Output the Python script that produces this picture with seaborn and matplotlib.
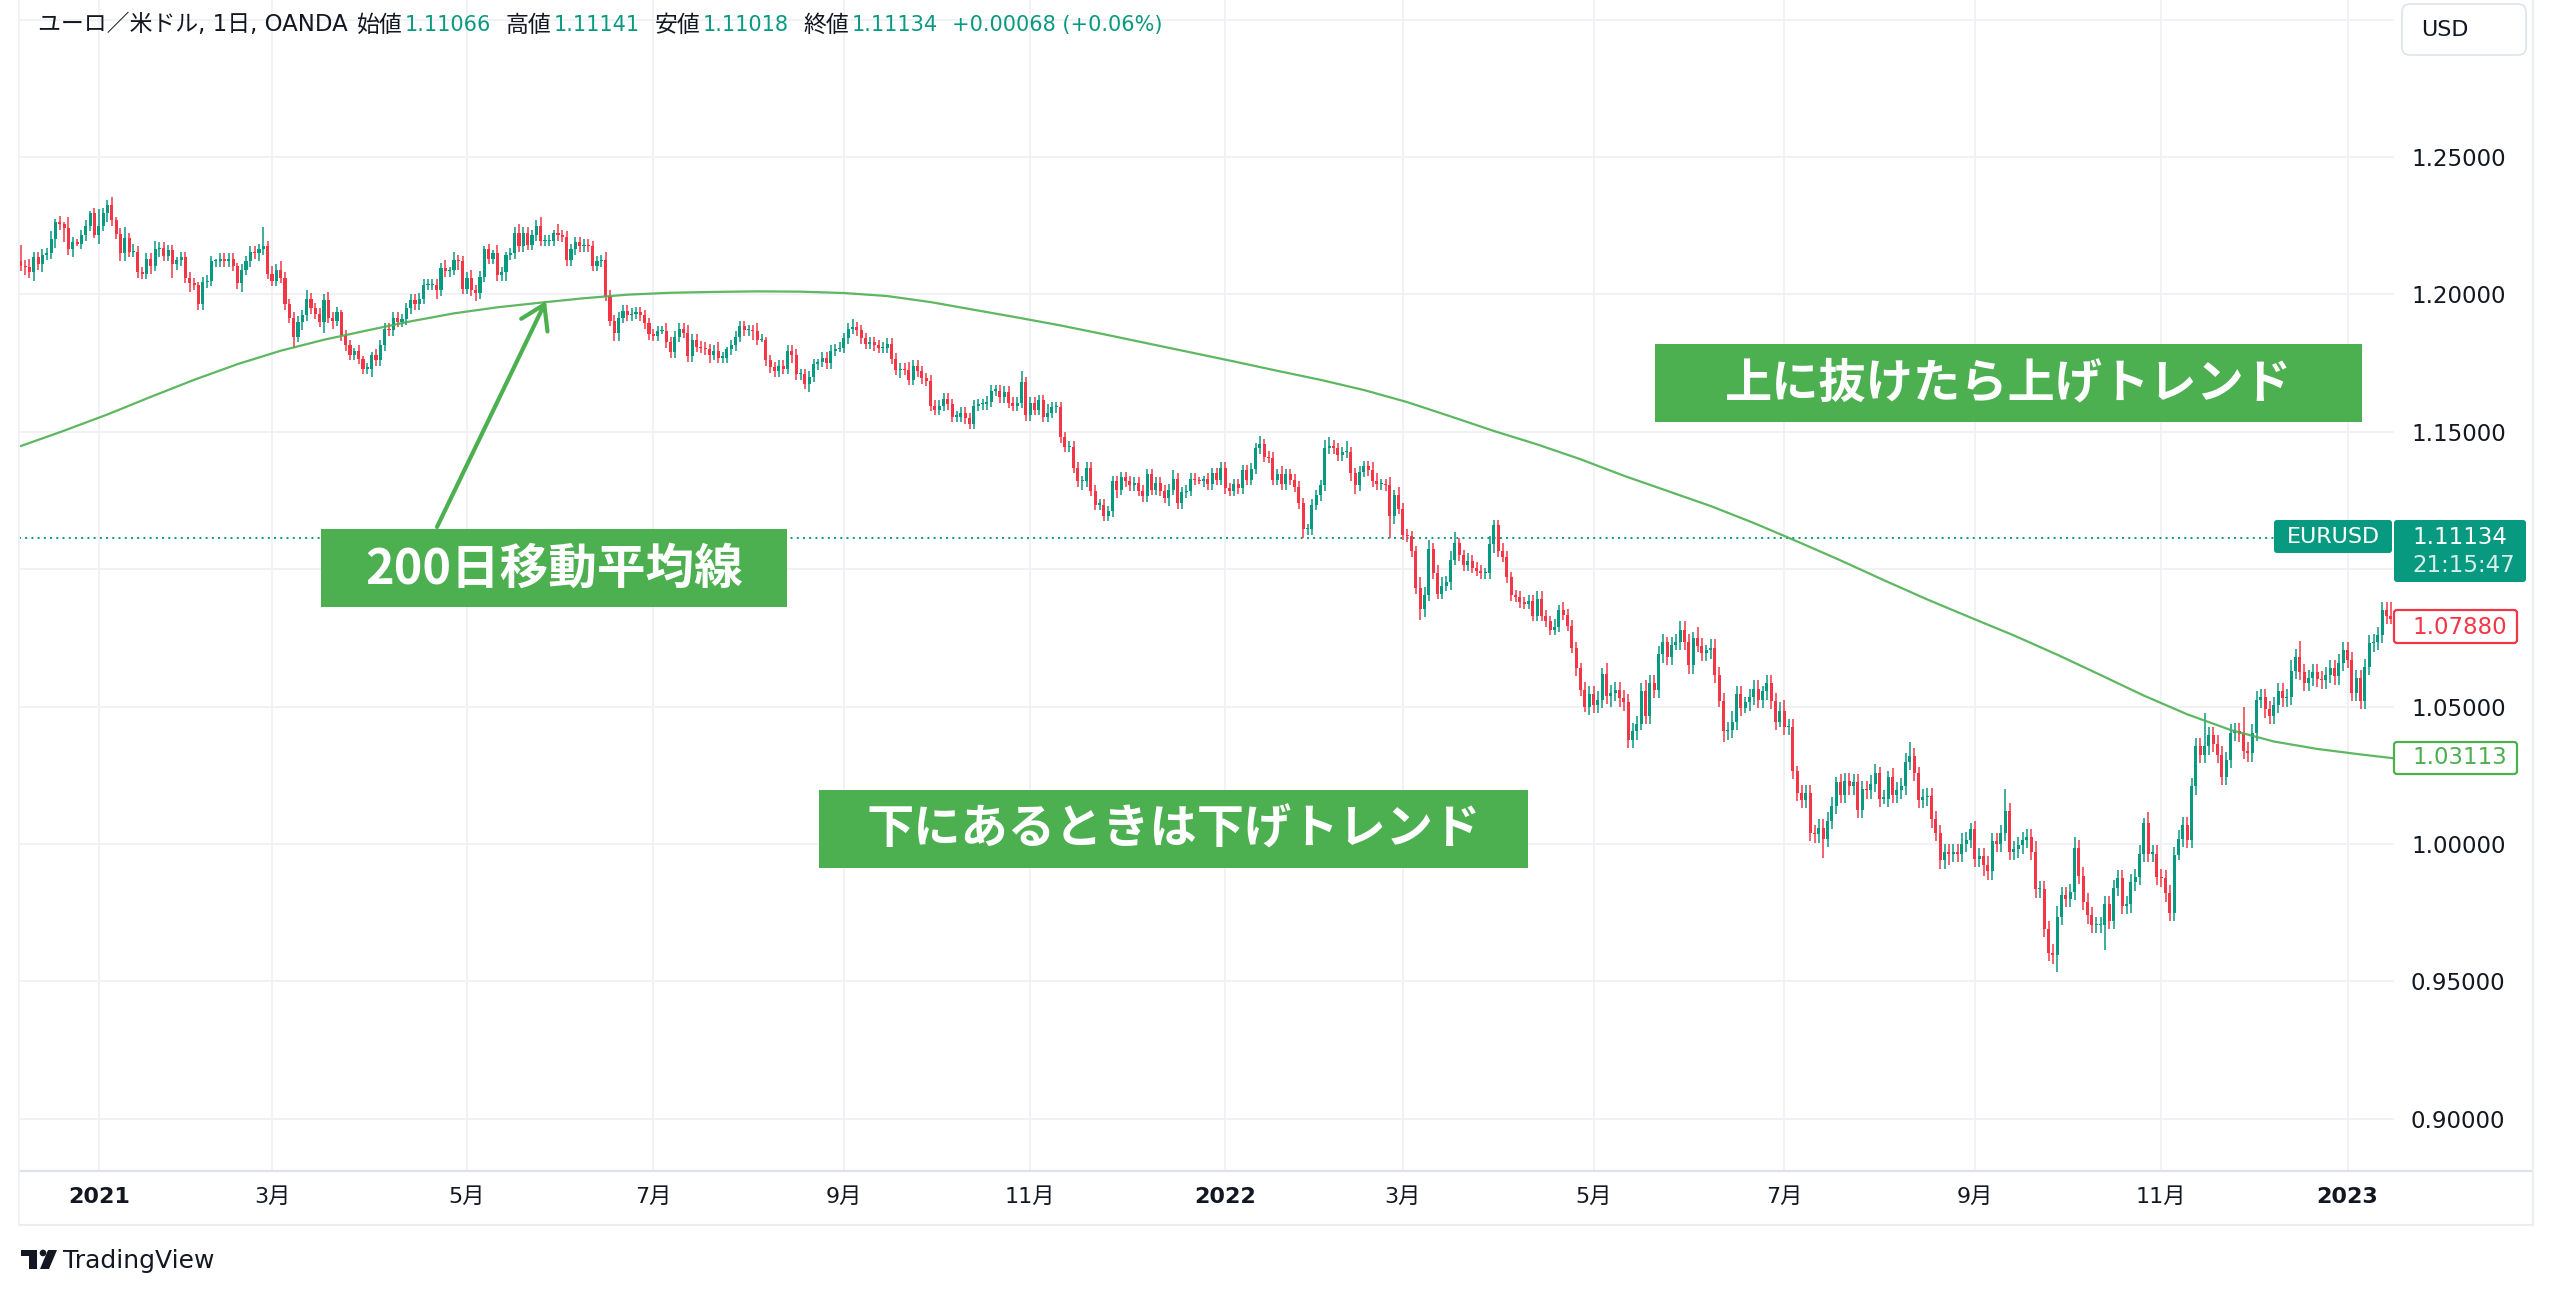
import numpy as np
import pandas as pd
import matplotlib
matplotlib.use("Agg")
import matplotlib.pyplot as plt
import seaborn as sns
from matplotlib.patches import FancyBboxPatch, Rectangle, Polygon, Circle

# ---------------- data (EUR/USD daily, OANDA) ----------------
OPEN_FIRST = 1.2120
CLOSE_2020 = [1.2105, 1.2100, 1.2080, 1.2135, 1.2110, 1.2145, 1.2150, 1.2200, 1.2265, 1.2255,
              1.2240, 1.2165, 1.2190, 1.2185, 1.2215, 1.2250, 1.2295, 1.2215]
CLOSE_2021 = [
    # Jan
    1.2250, 1.2295, 1.2325, 1.2270, 1.2220, 1.2150, 1.2205, 1.2155, 1.2155, 1.2080,
    1.2075, 1.2130, 1.2105, 1.2165, 1.2170, 1.2140, 1.2160, 1.2110, 1.2125, 1.2135,
    # Feb
    1.2060, 1.2040, 1.2035, 1.1965, 1.2045, 1.2050, 1.2120, 1.2120, 1.2130, 1.2120,
    1.2130, 1.2105, 1.2040, 1.2090, 1.2120, 1.2155, 1.2150, 1.2165, 1.2175, 1.2075,
    # Mar
    1.2050, 1.2090, 1.2060, 1.1965, 1.1915, 1.1845, 1.1900, 1.1925, 1.1985, 1.1950,
    1.1930, 1.1900, 1.1980, 1.1915, 1.1905, 1.1935, 1.1850, 1.1815, 1.1780, 1.1795,
    1.1765, 1.1730, 1.1730,
    # Apr
    1.1780, 1.1760, 1.1815, 1.1875, 1.1870, 1.1915, 1.1900, 1.1910, 1.1950, 1.1980,
    1.1965, 1.1985, 1.2035, 1.2035, 1.2035, 1.2015, 1.2095, 1.2085, 1.2090, 1.2125,
    1.2120, 1.2020,
    # May
    1.2060, 1.2015, 1.2005, 1.2065, 1.2165, 1.2130, 1.2150, 1.2070, 1.2080, 1.2145,
    1.2150, 1.2225, 1.2175, 1.2225, 1.2180, 1.2215, 1.2250, 1.2195, 1.2195, 1.2195,
    1.2225,
    # Jun
    1.2215, 1.2210, 1.2125, 1.2165, 1.2190, 1.2175, 1.2180, 1.2175, 1.2105, 1.2120,
    1.2125, 1.1995, 1.1905, 1.1860, 1.1915, 1.1940, 1.1925, 1.1930, 1.1935, 1.1925,
    1.1895, 1.1855,
    # Jul
    1.1850, 1.1865, 1.1865, 1.1825, 1.1790, 1.1845, 1.1875, 1.1860, 1.1775, 1.1835,
    1.1810, 1.1805, 1.1800, 1.1780, 1.1795, 1.1770, 1.1770, 1.1800, 1.1815, 1.1845,
    1.1885, 1.1870,
    # Aug
    1.1870, 1.1865, 1.1835, 1.1835, 1.1760, 1.1735, 1.1720, 1.1740, 1.1730, 1.1795,
    1.1780, 1.1710, 1.1710, 1.1675, 1.1700, 1.1745, 1.1755, 1.1770, 1.1750, 1.1795,
    1.1800, 1.1805,
    # Sep
    1.1840, 1.1875, 1.1880, 1.1870, 1.1840, 1.1820, 1.1825, 1.1815, 1.1805, 1.1805,
    1.1820, 1.1765, 1.1725, 1.1730, 1.1725, 1.1690, 1.1740, 1.1720, 1.1695, 1.1685,
    1.1595, 1.1580,
    # Oct
    1.1595, 1.1620, 1.1600, 1.1555, 1.1555, 1.1570, 1.1550, 1.1530, 1.1595, 1.1600,
    1.1600, 1.1610, 1.1650, 1.1650, 1.1625, 1.1645, 1.1605, 1.1595, 1.1605, 1.1680,
    1.1560,
    # Nov
    1.1605, 1.1580, 1.1615, 1.1555, 1.1570, 1.1590, 1.1590, 1.1480, 1.1445, 1.1445,
    1.1370, 1.1320, 1.1320, 1.1370, 1.1285, 1.1235, 1.1235, 1.1195, 1.1210, 1.1320,
    1.1290, 1.1335,
    # Dec
    1.1320, 1.1305, 1.1315, 1.1285, 1.1265, 1.1345, 1.1290, 1.1315, 1.1285, 1.1260,
    1.1290, 1.1330, 1.1240, 1.1280, 1.1285, 1.1330, 1.1325, 1.1320, 1.1330, 1.1310,
    1.1350, 1.1325, 1.1370,
]
CLOSE_2022 = [
    # Jan
    1.1295, 1.1285, 1.1310, 1.1295, 1.1360, 1.1325, 1.1365, 1.1440, 1.1455, 1.1410,
    1.1405, 1.1325, 1.1345, 1.1310, 1.1345, 1.1325, 1.1300, 1.1240, 1.1145, 1.1145,
    1.1235,
    # Feb
    1.1270, 1.1305, 1.1440, 1.1450, 1.1440, 1.1415, 1.1425, 1.1425, 1.1350, 1.1305,
    1.1355, 1.1375, 1.1360, 1.1320, 1.1310, 1.1310, 1.1305, 1.1195, 1.1270, 1.1220,
    # Mar
    1.1125, 1.1120, 1.1065, 1.0930, 1.0855, 1.0905, 1.1075, 1.0985, 1.0910, 1.0940,
    1.0955, 1.1035, 1.1095, 1.1050, 1.1015, 1.1030, 1.1005, 1.0995, 1.0985, 1.0985,
    1.1090, 1.1160, 1.1065,
    # Apr
    1.1045, 1.0970, 1.0905, 1.0900, 1.0880, 1.0875, 1.0885, 1.0830, 1.0890, 1.0830,
    1.0810, 1.0780, 1.0790, 1.0850, 1.0835, 1.0795, 1.0715, 1.0640, 1.0560, 1.0500,
    1.0545,
    # May
    1.0505, 1.0525, 1.0620, 1.0540, 1.0550, 1.0560, 1.0530, 1.0515, 1.0380, 1.0410,
    1.0435, 1.0555, 1.0465, 1.0585, 1.0560, 1.0690, 1.0735, 1.0680, 1.0725, 1.0735,
    1.0780, 1.0735,
    # Jun
    1.0650, 1.0750, 1.0720, 1.0695, 1.0705, 1.0715, 1.0615, 1.0520, 1.0410, 1.0415,
    1.0445, 1.0545, 1.0495, 1.0515, 1.0535, 1.0565, 1.0525, 1.0555, 1.0585, 1.0520,
    1.0445, 1.0485,
    # Jul
    1.0425, 1.0425, 1.0265, 1.0185, 1.0160, 1.0185, 1.0040, 1.0035, 1.0060, 1.0020,
    1.0085, 1.0140, 1.0225, 1.0180, 1.0230, 1.0210, 1.0225, 1.0125, 1.0200, 1.0195,
    1.0220,
    # Aug
    1.0260, 1.0165, 1.0165, 1.0245, 1.0180, 1.0195, 1.0210, 1.0300, 1.0320, 1.0260,
    1.0160, 1.0170, 1.0175, 1.0090, 1.0040, 0.9940, 0.9970, 0.9965, 0.9970, 0.9965,
    1.0000, 1.0015, 1.0055,
    # Sep
    0.9945, 0.9955, 0.9925, 0.9900, 1.0010, 1.0000, 1.0040, 1.0120, 0.9970, 0.9980,
    0.9995, 1.0015, 1.0025, 0.9970, 0.9835, 0.9835, 0.9690, 0.9605, 0.9595, 0.9735,
    0.9815, 0.9800,
    # Oct
    0.9825, 0.9985, 0.9885, 0.9790, 0.9740, 0.9705, 0.9705, 0.9705, 0.9780, 0.9720,
    0.9840, 0.9875, 0.9775, 0.9780, 0.9860, 0.9880, 0.9965, 1.0075, 0.9965, 0.9965,
    0.9880,
    # Nov
    0.9875, 0.9820, 0.9750, 0.9960, 1.0020, 1.0070, 1.0015, 1.0210, 1.0355, 1.0325,
    1.0355, 1.0395, 1.0365, 1.0325, 1.0245, 1.0305, 1.0405, 1.0410, 1.0400, 1.0340,
    1.0330, 1.0405,
    # Dec
    1.0525, 1.0535, 1.0490, 1.0465, 1.0505, 1.0555, 1.0530, 1.0535, 1.0630, 1.0680,
    1.0625, 1.0585, 1.0605, 1.0625, 1.0600, 1.0595, 1.0615, 1.0640, 1.0610, 1.0660,
    1.0705,
]
CLOSE_2023 = [1.0670, 1.0550, 1.0605, 1.0520, 1.0645, 1.0730, 1.0735, 1.0760, 1.0850, 1.0830,
              1.0820, 1.0788]

# wick lengths above / below the body, in units of 0.001
UPW_2020 = [6,2,3,2,2,2,2,3,1,2,1,4,2,1,2,2,1,2]
DNW_2020 = [2,3,2,3,2,3,2,2,3,2,5,2,3,1,2,2,2,1]
UPW_2021 = [6,2,2,3,1,2,4,2,3,2,2,2,2,3,2,2,2,2,1,2,
            2,2,2,1,2,2,2,1,2,2,2,2,1,2,2,2,2,2,7,2,
            3,2,3,2,2,2,2,2,3,2,2,2,2,3,2,2,1,2,2,1,2,1,2,
            1,2,2,2,2,2,2,2,2,2,2,2,2,2,2,2,2,3,1,3,2,2,
            2,3,2,2,1,2,1,3,2,1,2,2,3,2,2,2,2,3,2,2,1,
            3,2,2,2,2,2,2,2,2,2,2,3,2,2,2,2,2,2,2,2,2,2,
            2,2,2,3,2,2,2,2,3,2,2,2,2,2,2,3,2,1,2,2,2,2,
            2,2,3,2,1,2,2,2,2,2,2,2,2,2,2,2,1,2,2,2,2,2,
            2,2,3,2,2,2,2,2,2,2,2,2,2,2,2,3,2,2,2,2,2,2,
            2,2,2,2,2,2,2,2,2,2,2,2,2,2,2,2,2,2,2,4,2,
            2,2,2,2,3,2,2,2,2,2,2,2,2,2,2,2,2,2,2,2,2,2,
            2,2,2,2,2,2,2,2,2,2,2,3,2,2,2,2,2,1,1,2,2,2,2]
DNW_2021 = [3,2,3,2,2,3,3,2,2,2,2,2,3,2,3,2,2,5,2,2,
            2,3,2,2,2,2,2,2,2,2,2,2,2,3,2,2,2,3,2,2,
            2,2,2,2,2,4,2,3,2,2,2,2,4,2,3,2,2,2,2,2,2,2,2,
            3,2,2,2,2,2,2,2,2,2,2,2,2,2,2,3,2,2,2,2,3,2,
            2,2,3,2,2,2,2,2,2,3,2,2,2,2,2,2,2,2,2,2,2,
            2,2,2,2,2,2,2,2,2,2,2,2,2,3,3,2,2,2,2,2,2,2,
            2,2,1,2,2,2,2,2,2,2,2,2,2,3,2,2,2,2,2,2,2,2,
            2,3,2,1,2,2,2,2,2,2,3,2,2,2,3,2,2,2,2,2,2,1,
            2,2,2,2,2,2,2,2,2,2,2,2,2,3,2,2,2,2,2,2,2,2,
            2,2,2,2,2,2,2,2,2,2,2,2,2,2,2,2,2,2,2,2,2,
            2,2,2,2,2,2,2,2,2,2,2,2,3,2,2,2,2,2,2,2,3,2,
            2,2,2,2,2,2,2,2,2,2,3,2,2,2,2,2,2,1,2,2,2,2,2]
UPW_2022 = [2,2,2,2,2,2,2,2,3,2,2,2,2,3,2,2,2,2,2,2,2,
            2,2,3,3,2,2,2,4,2,2,2,2,2,3,3,2,2,3,2,3,
            2,2,2,2,4,3,3,2,3,3,2,3,4,2,2,3,2,2,2,2,3,2,2,
            3,2,2,2,2,2,2,2,3,3,2,2,3,2,3,2,2,2,2,3,3,
            3,3,2,4,3,3,3,3,3,3,3,3,4,3,3,3,3,2,3,3,3,3,
            3,2,4,3,2,3,3,3,3,3,4,3,3,2,3,3,3,2,3,3,3,3,
            4,3,3,2,3,3,3,3,3,3,3,3,2,3,3,3,3,3,3,3,3,
            3,2,3,2,3,3,3,3,5,3,2,3,3,3,3,3,3,3,3,3,4,3,2,
            3,3,3,3,3,3,3,8,3,3,3,3,3,3,4,3,3,3,3,4,3,3,
            3,4,3,3,3,3,3,3,3,3,3,3,3,3,3,3,3,2,4,3,3,
            3,3,3,3,3,3,3,3,3,3,12,3,3,3,3,3,3,3,3,10,3,3,
            3,3,3,3,3,3,3,3,4,3,6,3,3,3,3,3,3,3,3,3,3]
DNW_2022 = [2,2,2,2,2,2,2,2,2,2,2,2,2,2,2,2,2,2,3,2,2,
            2,2,2,2,2,2,2,2,3,3,2,2,2,2,2,2,2,8,3,2,
            2,2,2,2,4,3,2,2,2,2,2,3,2,2,2,2,2,2,2,2,2,3,2,
            2,2,2,2,2,2,2,2,2,2,2,2,2,2,2,2,2,3,2,2,3,
            3,3,3,3,4,3,3,3,3,3,3,2,3,3,3,3,3,3,3,2,3,3,
            3,3,2,3,3,3,3,2,4,3,3,3,3,2,3,3,3,3,3,3,3,2,
            3,3,3,3,3,3,3,3,3,7,3,3,3,3,3,3,3,3,3,3,3,
            3,3,2,3,3,3,3,3,3,3,3,3,3,3,3,3,3,4,3,3,3,3,3,
            3,3,4,3,3,3,3,3,3,3,3,3,3,3,3,3,3,3,3,6,3,3,
            3,3,3,3,3,3,3,3,9,3,3,3,3,3,3,3,3,3,3,3,3,
            3,3,3,3,2,3,3,3,3,3,3,3,3,3,3,3,3,3,3,3,3,3,
            3,3,3,3,3,3,3,3,3,3,3,3,3,3,3,3,3,3,3,3,3]
UPW_2023 = [3,3,3,3,3,3,3,3,3,3,5,4]
DNW_2023 = [3,3,3,3,3,3,3,3,3,3,2,2]

# 200-day moving average, every 10th bar from the first one, and its last value
MA200_EVERY_10 = [1.1448, 1.1504, 1.1563, 1.1627, 1.1689, 1.1746, 1.1795, 1.1835, 1.1869, 1.1902,
                  1.1931, 1.1953, 1.1970, 1.1986, 1.1999, 1.2006, 1.2009, 1.2011, 1.2010, 1.2005,
                  1.1994, 1.1972, 1.1944, 1.1916, 1.1887, 1.1855, 1.1822, 1.1789, 1.1756, 1.1722,
                  1.1689, 1.1652, 1.1608, 1.1556, 1.1503, 1.1454, 1.1400, 1.1340, 1.1285, 1.1230,
                  1.1168, 1.1101, 1.1032, 1.0960, 1.0890, 1.0824, 1.0759, 1.0689, 1.0615, 1.0540,
                  1.0472, 1.0415, 1.0373, 1.0346, 1.0326]
MA200_LAST = 1.03113
LAST_PRICE = 1.11134
LAST_CLOSE_LABEL = "1.07880"
COUNTDOWN = "21:15:47"

START_DATE, END_DATE = "2020-12-07", "2023-01-17"
NO_TRADING = ["2020-12-25", "2021-01-01", "2022-12-26"]
Y_TICKS = [0.90, 0.95, 1.00, 1.05, 1.10, 1.15, 1.20, 1.25, 1.30]
Y_LABELS = ["0.90000", "0.95000", "1.00000", "1.05000", "", "1.15000", "1.20000", "1.25000", ""]
X_TICK_MONTHS = ["2021-01", "2021-03", "2021-05", "2021-07", "2021-09", "2021-11",
                 "2022-01", "2022-03", "2022-05", "2022-07", "2022-09", "2022-11", "2023-01"]
X_TICK_LABELS = ["2021", "3月", "5月", "7月", "9月", "11月",
                 "2022", "3月", "5月", "7月", "9月", "11月", "2023"]

HEADER = [("ユーロ／米ドル, 1日, OANDA", "d"), ("始値", "d"), ("1.11066", "g"),
          ("高値", "d"), ("1.11141", "g"), ("安値", "d"), ("1.11018", "g"),
          ("終値", "d"), ("1.11134", "g"), ("+0.00068 (+0.06%)", "g")]
NOTE_MA = "200日移動平均線"
NOTE_UP = "上に抜けたら上げトレンド"
NOTE_DOWN = "下にあるときは下げトレンド"

# ---------------- build ----------------
UP_C, DN_C = "#089981", "#F23645"
MA_C = "#4CAF50"
TXT = "#131722"
GRID = "#eff1f5"

close = np.array(CLOSE_2020 + CLOSE_2021 + CLOSE_2022 + CLOSE_2023)
n = len(close)
upw = np.array((UPW_2020 + UPW_2021 + UPW_2022 + UPW_2023 + [2] * n)[:n]) * 0.001
dnw = np.array((DNW_2020 + DNW_2021 + DNW_2022 + DNW_2023 + [2] * n)[:n]) * 0.001
open_ = np.r_[OPEN_FIRST, close[:-1]]
high = np.maximum(open_, close) + upw
low = np.minimum(open_, close) - dnw
dates = pd.bdate_range(START_DATE, END_DATE, freq="C", holidays=NO_TRADING)[:n]
xi = np.arange(n)

sns.set_theme(style="white")
plt.rcParams["font.family"] = ["DejaVu Sans", "Noto Sans CJK JP"]

W, H = 2554, 1296
fig = plt.figure(figsize=(W / 100, H / 100), dpi=100)
fig.patch.set_facecolor("white")

PX0, PX1, PYB = 19, 2394, 1171
ax = fig.add_axes([PX0 / W, (H - PYB) / H, (PX1 - PX0) / W, PYB / H])
ax.set_facecolor("white")
step = 4.333
ax.set_xlim((PX0 - 20.7) / step, (PX0 - 20.7) / step + (PX1 - PX0) / step)
ax.set_ylim(1.0 - (PYB - 844) / 2748.0, 1.0 + 844 / 2748.0)
for s in ax.spines.values():
    s.set_visible(False)

# grid
ax.set_axisbelow(True)
ax.grid(True, color=GRID, linewidth=1.3)

# candles
cols = np.where(close >= open_, UP_C, DN_C)
ax.vlines(xi, low, high, colors=cols, linewidth=1.1, zorder=3)
body_b = np.minimum(open_, close)
body_h = np.maximum(np.abs(close - open_), 0.00045)
ax.bar(xi, body_h, bottom=body_b, width=0.7, color=cols, linewidth=0, zorder=4)

# 200-day MA
ma_x = np.r_[np.arange(len(MA200_EVERY_10)) * 10, n - 1]
ma_y = np.r_[MA200_EVERY_10, MA200_LAST]
sns.lineplot(x=ma_x, y=ma_y, ax=ax, color=MA_C, linewidth=1.6, alpha=0.9, zorder=5)

# last price dotted line
ax.axhline(LAST_PRICE, color=UP_C, linewidth=1.4, linestyle=(0, (1, 2.2)), zorder=2)

# axes ticks
ax.yaxis.tick_right()
ax.set_yticks(Y_TICKS)
ax.set_yticklabels(Y_LABELS)
ax.tick_params(axis="y", length=0, pad=12.2, labelsize=16.5, labelcolor=TXT)
xpos = [int(np.searchsorted(dates.values, np.datetime64(m + "-01"))) for m in X_TICK_MONTHS]
ax.set_xticks(xpos)
ax.set_xticklabels(X_TICK_LABELS)
ax.tick_params(axis="x", length=0, pad=11.5, labelsize=16, labelcolor=TXT)
for lbl in ax.get_xticklabels():
    if lbl.get_text().isdigit():
        lbl.set_fontweight("bold")
ax.set_xlabel("")
ax.set_ylabel("")
if ax.get_legend():
    ax.get_legend().remove()

# ---------------- overlay (pixel coordinates) ----------------
ov = fig.add_axes([0, 0, 1, 1], zorder=10)
ov.set_xlim(0, W)
ov.set_ylim(H, 0)
ov.axis("off")
ov.patch.set_alpha(0)

# frame lines
ov.plot([PX0, 2533], [1171, 1171], color="#dfe2ea", lw=1.6)
ov.plot([PX0, 2533], [1225, 1225], color="#eceef2", lw=1.6)
ov.plot([PX0, PX0], [0, 1225], color="#eff1f4", lw=1.4)
ov.plot([2533, 2533], [0, 1225], color="#eceef2", lw=1.6)

# header, laid out left to right
renderer = fig.canvas.get_renderer()
hx = 38
for i, (txt, c) in enumerate(HEADER):
    t = ov.text(hx, 25, txt, color=TXT if c == "d" else UP_C,
                fontsize=16.5 if c == "d" else 15, ha="left", va="center")
    wpx = t.get_window_extent(renderer=renderer).width
    if i == 0:
        gap = 9
    elif c == "d":
        gap = 2
    else:
        gap = 15
    hx += wpx + gap

# USD box
ov.add_patch(FancyBboxPatch((2402, 4), 124, 51, boxstyle="round,pad=0,rounding_size=8",
                            fc="white", ec="#e0e3eb", lw=1.2))
ov.text(2421, 30, "USD", color=TXT, fontsize=16, ha="left", va="center")

# EURUSD + last price
ov.add_patch(FancyBboxPatch((2274, 520), 118, 33, boxstyle="round,pad=0,rounding_size=3",
                            fc=UP_C, ec="none"))
ov.text(2333, 537, "EURUSD", color="white", fontsize=16, ha="center", va="center")
ov.add_patch(FancyBboxPatch((2394, 520), 132, 62, boxstyle="round,pad=0,rounding_size=3",
                            fc=UP_C, ec="none"))
ov.text(2412, 538, f"{LAST_PRICE:.5f}", color="white", fontsize=16.5, ha="left", va="center")
ov.text(2412, 566, COUNTDOWN, color="#d6efe9", fontsize=16.5, ha="left", va="center")

# last visible close and MA value
ov.add_patch(FancyBboxPatch((2394, 610), 123, 33, boxstyle="round,pad=0,rounding_size=3",
                            fc="white", ec=DN_C, lw=1.6))
ov.text(2412, 627, LAST_CLOSE_LABEL, color=DN_C, fontsize=16.5, ha="left", va="center")
ov.add_patch(FancyBboxPatch((2394, 742), 123, 32, boxstyle="round,pad=0,rounding_size=3",
                            fc="white", ec=MA_C, lw=1.6))
ov.text(2412, 758, f"{MA200_LAST:.5f}", color=MA_C, fontsize=16.5, ha="left", va="center")

# annotation boxes
JP = ["Noto Sans CJK JP", "DejaVu Sans"]
for (x0, y0, x1, y1), t, fs in [((321, 529, 787, 607), NOTE_MA, 35),
                                ((1655, 344, 2362, 422), NOTE_UP, 34),
                                ((819, 790, 1528, 868), NOTE_DOWN, 34)]:
    ov.add_patch(Rectangle((x0, y0), x1 - x0, y1 - y0, fc=MA_C, ec="none"))
    ov.text((x0 + x1) / 2, (y0 + y1) / 2 + 1, t, color="white", fontsize=fs,
            fontweight="bold", family=JP, ha="center", va="center")

# arrow to the MA
ov.annotate("", xy=(546, 301), xytext=(437, 527),
            arrowprops=dict(arrowstyle="->,head_length=0.55,head_width=0.35",
                            color=MA_C, lw=3.0, shrinkA=0, shrinkB=0,
                            mutation_scale=30, capstyle="round"))

# TradingView logo
ov.add_patch(Rectangle((21, 1250), 16, 6, fc=TXT, ec="none"))
ov.add_patch(Rectangle((29, 1250), 8, 19, fc=TXT, ec="none"))
ov.add_patch(Circle((43, 1253), 3.3, fc=TXT, ec="none"))
ov.add_patch(Polygon([(48, 1250), (57, 1250), (49, 1269), (40, 1269)], fc=TXT, ec="none"))
ov.text(63, 1261, "TradingView", color=TXT, fontsize=18, ha="left", va="center")

fig.savefig("out.png", dpi=100, facecolor="white")
